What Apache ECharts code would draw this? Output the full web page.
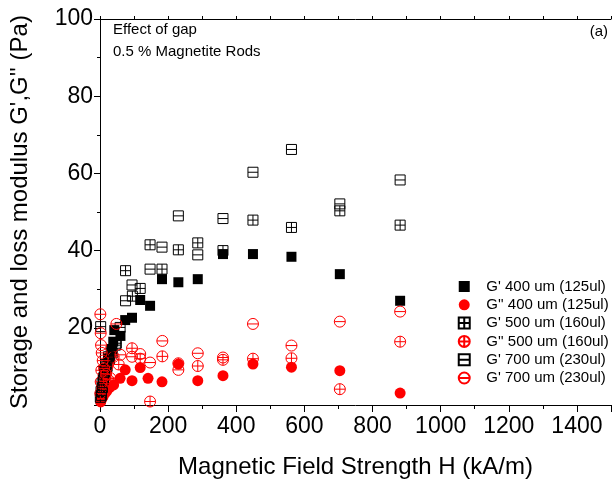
<!DOCTYPE html>
<html>
<head>
<meta charset="utf-8">
<script src="https://cdn.jsdelivr.net/npm/echarts@6/dist/echarts.min.js"></script>
<style>
html,body{margin:0;padding:0;background:#fff;}
#chart{width:614px;height:485px;}
</style>
</head>
<body>
<div id="chart"></div>
<script>
// ---- data (H in kA/m, modulus in Pa) ----
const hGp400 = [2, 5, 9, 14, 20, 27, 34, 39, 42, 60, 74, 94, 118, 147, 182, 230, 287, 361, 449, 562, 704, 881];
const gGp400 = [1.5, 3.0, 5.0, 7.5, 9.5, 12.0, 14.5, 16.4, 19.4, 17.9, 22.0, 22.6, 27.2, 25.7, 32.6, 31.8, 32.6, 39.1, 39.1, 38.4, 33.9, 27.0];

const hGpp400 = [2, 5, 9, 14, 20, 28, 40, 59, 74, 94, 118, 141, 182, 230, 287, 361, 449, 562, 704, 881];
const gGpp400 = [0.8, 1.5, 2.2, 3.0, 3.6, 4.5, 5.2, 6.9, 9.1, 6.3, 9.7, 6.9, 6.0, 10.6, 6.3, 7.6, 10.6, 9.8, 8.9, 3.1];

const hGp500 = [1, 3, 6, 10, 15, 21, 28, 36, 48, 75, 95, 118, 147, 182, 230, 287, 361, 449, 562, 704, 881];
const gGp500 = [2.0, 3.5, 5.5, 7.0, 8.5, 10.0, 12.0, 13.5, 16.0, 34.8, 28.2, 30.2, 41.5, 35.2, 40.2, 42.0, 40.0, 47.9, 46.0, 50.3, 46.6];

const hGpp500 = [1, 2, 4, 7, 11, 16, 22, 30, 40, 55, 94, 118, 147, 183, 230, 287, 361, 449, 562, 704, 881];
const gGpp500 = [3.0, 6.0, 9.0, 4.5, 7.5, 5.5, 10.0, 7.0, 12.5, 10.5, 14.7, 12.0, 0.9, 12.6, 10.8, 10.1, 11.7, 12.0, 12.1, 4.1, 16.4];

const hGp700 = [2, 4, 7, 10, 13, 18, 25, 33, 45, 59, 75, 94, 147, 182, 230, 287, 361, 449, 562, 704, 881];
const gGp700 = [20.3, 2.5, 4.5, 6.5, 8.5, 10.5, 12.5, 14.0, 15.5, 20.1, 27.0, 31.1, 35.2, 40.9, 49.0, 38.9, 48.3, 60.3, 66.2, 52.1, 58.3];

const hGpp700 = [1, 2, 3, 5, 8, 12, 18, 25, 35, 48, 60, 94, 118, 147, 183, 230, 287, 361, 449, 562, 704, 881];
const gGpp700 = [23.5, 18.6, 15.5, 13.5, 11.5, 9.5, 8.0, 6.5, 5.5, 21.0, 13.0, 12.5, 13.2, 11.0, 16.6, 9.1, 13.4, 12.3, 21.0, 15.4, 21.6, 24.2];

const seriesNames = ["G' 400 um (125ul)", "G'' 400 um (125ul)", "G' 500 um (160ul)", "G'' 500 um (160ul)", "G' 700 um (230ul)", "G' 700 um (230ul) "];
const xTitle = "Magnetic Field Strength H (kA/m)";
const yTitle = "Storage and loss modulus G',G'' (Pa)";
const note1 = "Effect of gap";
const note2 = "0.5 % Magnetite Rods";
const panel = "(a)";

const pairs = (xs, ys) => xs.map((x, i) => [x, ys[i]]);

const FONT = "'Liberation Sans', Arial, sans-serif";
const RED = '#ff0000';
const BLK = '#000000';
const sqFill = 'path://M0,0H10V10H0Z';
const sqPlus = 'path://M0,0H10V10H0Z M5,0V10 M0,5H10';
const sqMinus = 'path://M0,0H10V10H0Z M0,5H10';
const cPlus = 'path://M0,5A5,5,0,1,1,10,5A5,5,0,1,1,0,5Z M5,0V10 M0,5H10';
const cMinus = 'path://M0,5A5,5,0,1,1,10,5A5,5,0,1,1,0,5Z M0,5H10';

function hollow(name, data, symbol, color, size) {
  return {
    name, type: 'scatter', data, symbol, symbolSize: size, symbolKeepAspect: true,
    xAxisIndex: 0, yAxisIndex: 0,
    itemStyle: { color: 'rgba(255,255,255,0)', borderColor: color, borderWidth: 1, opacity: 1 },
    emphasis: { disabled: true }, animation: false
  };
}
function filled(name, data, symbol, color, size) {
  return {
    name, type: 'scatter', data, symbol, symbolSize: size, symbolKeepAspect: true,
    xAxisIndex: 0, yAxisIndex: 0,
    itemStyle: { color: color, opacity: 1 },
    emphasis: { disabled: true }, animation: false
  };
}

const chart = echarts.init(document.getElementById('chart'), null, { renderer: 'canvas' });
const axisLine = { show: true, lineStyle: { color: '#000', width: 1 } };
const gridPos = { left: 98, top: 19, width: 519, height: 386 };

chart.setOption({
  animation: false,
  backgroundColor: '#fff',
  textStyle: { fontFamily: FONT },
  grid: Object.assign({ containLabel: false, show: false }, gridPos),
  xAxis: [
    {
      type: 'value', min: 0, max: 1500, interval: 100, position: 'bottom',
      axisLine, splitLine: { show: false },
      axisTick: { show: true, inside: false, length: 4, lineStyle: { color: '#000' } },
      axisLabel: { show: true, color: '#000', fontSize: 23, fontFamily: FONT, margin: 10,
        formatter: v => (v % 200 === 0 ? String(v) : '') },
      name: xTitle, nameLocation: 'middle', nameGap: 50,
      nameTextStyle: { color: '#000', fontSize: 24, fontFamily: FONT }
    },
    {
      type: 'value', min: 0, max: 1500, interval: 200, position: 'bottom',
      axisLine: { show: false }, splitLine: { show: false },
      axisTick: { show: true, inside: false, length: 7, lineStyle: { color: '#000' } },
      axisLabel: { show: false }
    },
    {
      type: 'value', min: 0, max: 1500, interval: 100, position: 'top',
      axisLine, splitLine: { show: false },
      axisTick: { show: true, inside: false, length: 3, lineStyle: { color: '#000' } },
      axisLabel: { show: false }
    }
  ],
  yAxis: [
    {
      type: 'value', min: 0, max: 100, interval: 10, position: 'left',
      axisLine, splitLine: { show: false },
      axisTick: { show: true, inside: false, length: 3, lineStyle: { color: '#000' } },
      axisLabel: { show: true, color: '#000', fontSize: 23, fontFamily: FONT, margin: 7,
        formatter: v => (v % 20 === 0 && v !== 0 ? String(v) : '') },
      name: yTitle, nameLocation: 'middle', nameGap: 68,
      nameTextStyle: { color: '#000', fontSize: 24, fontFamily: FONT }
    },
    {
      type: 'value', min: 0, max: 100, interval: 20, position: 'left',
      axisLine: { show: false }, splitLine: { show: false },
      axisTick: { show: true, inside: false, length: 6, lineStyle: { color: '#000' } },
      axisLabel: { show: false }
    }
  ],
  legend: {
    orient: 'vertical', right: 4, top: 278, padding: 0, align: 'left',
    itemWidth: 34, itemHeight: 11, itemGap: 1.3,
    textStyle: { color: '#000', fontSize: 15, fontFamily: FONT, lineHeight: 17 },
    selectedMode: false,
    data: seriesNames
  },
  graphic: [
    { type: 'text', left: 113, top: 22, style: { text: note1, font: '15px ' + FONT, fill: '#000' } },
    { type: 'text', left: 113, top: 44, style: { text: note2, font: '15px ' + FONT, fill: '#000' } },
    { type: 'text', right: 6, top: 24, style: { text: panel, font: '15px ' + FONT, fill: '#000' } }
  ],
  series: [
    filled(seriesNames[0], pairs(hGp400, gGp400), sqFill, BLK, 10),
    filled(seriesNames[1], pairs(hGpp400, gGpp400), 'circle', RED, 11),
    hollow(seriesNames[2], pairs(hGp500, gGp500), sqPlus, BLK, 10),
    hollow(seriesNames[3], pairs(hGpp500, gGpp500), cPlus, RED, 11),
    hollow(seriesNames[4], pairs(hGp700, gGp700), sqMinus, BLK, 10),
    hollow(seriesNames[5], pairs(hGpp700, gGpp700), cMinus, RED, 11)
  ]
});
</script>
</body>
</html>
